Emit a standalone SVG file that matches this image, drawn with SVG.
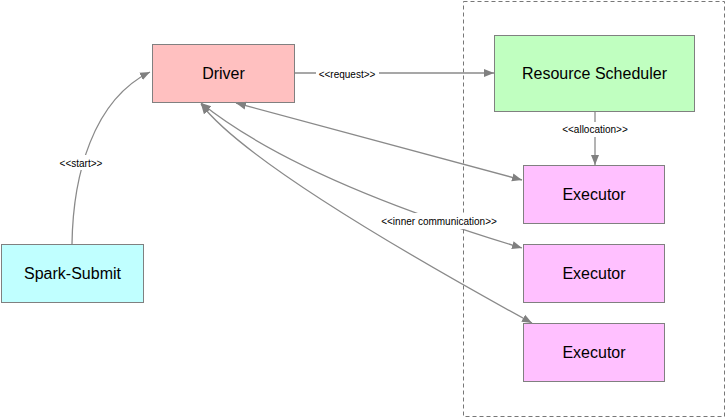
<svg xmlns="http://www.w3.org/2000/svg" width="726" height="418" viewBox="0 0 726 418">
<defs>
<style>
.node{stroke:#808080;stroke-width:1}
.nt{font-family:"Liberation Sans",Arial,sans-serif;font-size:16px;fill:#000;text-anchor:middle;dominant-baseline:central}
.lbl{font-family:"Liberation Sans",Arial,sans-serif;font-size:10px;fill:#000;text-anchor:middle;dominant-baseline:central}
.lbg{fill:#fff;stroke:none}
.c{fill:none;stroke:#8a8a8a;stroke-width:1.3}
</style>
<marker id="ah" viewBox="0 0 10 10" refX="10" refY="5" markerWidth="10" markerHeight="10" markerUnits="userSpaceOnUse" orient="auto-start-reverse">
<path d="M0,1 L10,5 L0,9 Z" fill="#808080"/>
</marker>
</defs>
<rect width="726" height="418" fill="#fff"/>
<rect id="cluster" x="463.5" y="1.5" width="261" height="415" fill="none" stroke="#777" stroke-width="1" stroke-dasharray="4,3"/>
<g id="driver"><rect class="node" x="152.5" y="44.5" width="142" height="58" fill="#ffc0c0"/><text class="nt" x="223.5" y="73.5">Driver</text></g>
<g id="scheduler"><rect class="node" x="494.5" y="35.5" width="200" height="76" fill="#c0ffc0"/><text class="nt" x="594.5" y="73.5">Resource Scheduler</text></g>
<g id="executor1"><rect class="node" x="523.5" y="165.5" width="141" height="58" fill="#ffc0ff"/><text class="nt" x="594" y="194.5">Executor</text></g>
<g id="executor2"><rect class="node" x="523.5" y="244.5" width="141" height="58" fill="#ffc0ff"/><text class="nt" x="594" y="273.5">Executor</text></g>
<g id="executor3"><rect class="node" x="523.5" y="323.5" width="141" height="58" fill="#ffc0ff"/><text class="nt" x="594" y="352.5">Executor</text></g>
<g id="sparksubmit"><rect class="node" x="1.5" y="244.5" width="142" height="58" fill="#c0ffff"/><text class="nt" x="72.5" y="273.5">Spark-Submit</text></g>
<g id="connectors">
<path class="c" d="M295,73 L494,73" marker-end="url(#ah)"/>
<rect class="lbg" x="316" y="66" width="63" height="15"/>
<text class="lbl" x="347" y="74">&lt;&lt;request&gt;&gt;</text>
<path class="c" d="M595,112 L595,165" marker-end="url(#ah)"/>
<rect class="lbg" x="556" y="122" width="79" height="15"/>
<text class="lbl" x="595" y="129">&lt;&lt;allocation&gt;&gt;</text>
<path class="c" d="M72,244 C73,175 93,100 150,72" marker-end="url(#ah)"/>
<rect class="lbg" x="58" y="155" width="47" height="15"/>
<text class="lbl" x="81" y="163">&lt;&lt;start&gt;&gt;</text>
<path class="c" d="M236,103 L522,180" marker-start="url(#ah)" marker-end="url(#ah)"/>
<path class="c" d="M201,103 Q297,180 522,248" marker-start="url(#ah)" marker-end="url(#ah)"/>
<path class="c" d="M201,104 Q251,169 532,323" marker-start="url(#ah)" marker-end="url(#ah)"/>
<rect class="lbg" x="377" y="213" width="124" height="16"/>
<text class="lbl" x="439" y="221">&lt;&lt;inner communication&gt;&gt;</text>
</g>
</svg>
